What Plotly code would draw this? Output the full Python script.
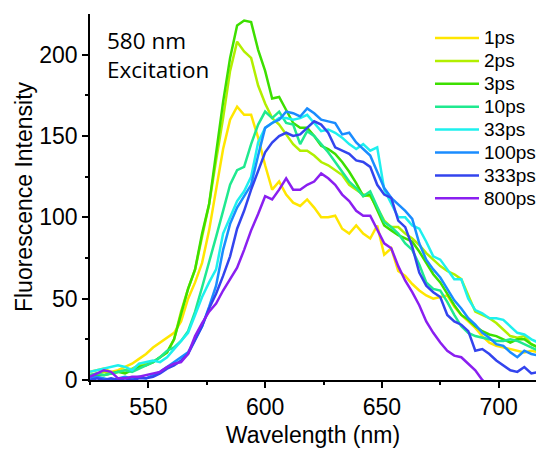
import plotly.graph_objects as go

wavelength = [525, 528, 531, 534, 537, 540, 543, 546, 549, 552,
              555, 558, 561, 564, 567, 570, 573, 576, 579, 582,
              585, 588, 591, 594, 597, 600, 603, 606, 609, 612,
              615, 618, 621, 624, 627, 630, 633, 636, 639, 642,
              645, 648, 651, 654, 657, 660, 663, 666, 669, 672,
              675, 678, 681, 684, 687, 690, 693, 696, 699, 702,
              705, 708, 711, 714, 717]

ps1 = [5, 6, 7, 5, 6, 8, 10, 13, 16, 20,
       23, 26, 29, 36, 50, 60, 72, 92, 118, 142,
       160, 168, 163, 163, 149, 132, 117, 122, 114, 109,
       107, 111, 106, 100, 100, 101, 93, 90, 95, 90,
       87, 95, 77, 81, 67, 64, 59, 55, 52, 50,
       51, 52, 45, 40, 36, 32, 27, 23, 21, 20,
       19, 18, 17, 18, 17]

ps2 = [3, 4, 5, 4, 5, 6, 7, 9, 10, 11,
       14, 17, 25, 42, 56, 68, 88, 108, 135, 161,
       190, 208, 202, 198, 181, 170, 161, 157, 151, 145,
       141, 141, 138, 134, 132, 129, 126, 120, 117, 114,
       113, 106, 98, 94, 94, 90, 87, 83, 78, 74,
       70, 67, 65, 62, 52, 42, 40, 38, 35, 31,
       27, 26, 27, 22, 20]

ps3 = [2, 3, 3, 4, 5, 4, 6, 8, 9, 11,
       14, 17, 25, 40, 56, 68, 90, 108, 140, 171,
       198, 218, 221, 220, 203, 190, 173, 174, 166, 158,
       155, 155, 150, 144, 142, 139, 134, 128, 121, 113,
       114, 104, 95, 92, 89, 87, 85, 79, 72, 65,
       60, 53, 46, 40, 37, 33, 30, 28, 27, 25,
       23, 25, 25, 22, 20]

ps10 = [3, 4, 3, 4, 5, 6, 5, 7, 9, 11,
        14, 18, 20, 24, 30, 42, 57, 72, 88, 104,
        120, 129, 131, 145, 157, 165, 161, 165, 158, 157,
        145, 153, 150, 145, 140, 134, 128, 122, 118, 113,
        116, 106, 97, 94, 90, 84, 80, 71, 60, 56,
        55, 48, 40, 33, 29, 27, 26, 25, 24, 24,
        25, 24, 22, 20, 18]

ps33 = [5, 6, 7, 8, 9, 8, 6, 10, 11, 12,
        11, 14, 19, 24, 29, 40, 51, 60, 68, 90,
        100, 110, 116, 125, 146, 155, 158, 161, 161, 160,
        161, 163, 158, 153, 154, 152, 149, 145, 142, 145,
        141, 143, 117, 108, 100, 100, 95, 93, 85, 76,
        74, 68, 62, 62, 50, 43, 41, 38, 38, 37,
        33, 29, 28, 25, 23]

ps100 = [1, 2, 1, 0, 1, 2, 1, 2, 1, 3,
         5, 8, 11, 14, 17, 25, 33, 45, 58, 80,
         96, 106, 113, 120, 138, 155, 158, 160, 165, 164,
         162, 167, 164, 160, 159, 158, 151, 152, 146, 142,
         138, 128, 118, 112, 108, 104, 99, 84, 74, 68,
         63, 56, 49, 44, 38, 34, 29, 26, 22, 21,
         17, 14, 18, 16, 15]

ps333 = [0, 1, 0, 1, 0, 1, 0, 1, 1, 2,
         4, 7, 9, 12, 16, 25, 33, 44, 53, 64,
         76, 93, 104, 117, 128, 140, 146, 150, 152, 150,
         151, 155, 159, 157, 152, 143, 141, 139, 135, 134,
         131, 120, 114, 112, 98, 94, 82, 66, 58, 54,
         51, 40, 36, 34, 30, 18, 19, 16, 12, 9,
         6, 5, 8, 4, 5]

ps800 = [2, 4, 6, 5, 1, 1, 2, 2, 3, 4,
         5, 8, 10, 11, 16, 27, 35, 42, 47, 55,
         62, 69, 80, 92, 102, 113, 111, 117, 124, 117,
         117, 120, 122, 127, 124, 120, 114, 110, 104, 101,
         101, 92, 84, 81, 70, 61, 54, 46, 36, 29,
         23, 18, 15, 14, 10, 6, 0, -4, None, None,
         None, None, None, None, None]

series_names = ["1ps", "2ps", "3ps", "10ps", "33ps", "100ps", "333ps", "800ps"]
series_values = [ps1, ps2, ps3, ps10, ps33, ps100, ps333, ps800]
series_colors = ["#ffe600", "#b2ef00", "#3ddf00", "#1fe98f",
                 "#1ef0ee", "#1a8cff", "#3344ee", "#8a1ff0"]

W, H = 536, 451
ML, MR, MT, MB = 90, 0, 14, 71
PW, PH = W - ML - MR, H - MT - MB

fig = go.Figure()
for name, vals, col in zip(series_names, series_values, series_colors):
    fig.add_trace(go.Scatter(x=wavelength, y=vals, mode="lines", name=name,
                             line=dict(color=col, width=2.5),
                             connectgaps=False, showlegend=False))

# legend drawn as paper-positioned line samples and labels
shapes = []
annotations = []
for i, (name, col) in enumerate(zip(series_names, series_colors)):
    py = 38 + i * 22.9
    yp = (H - MB - py) / PH
    shapes.append(dict(type="line", xref="paper", yref="paper",
                       x0=(435 - ML) / PW, x1=(479 - ML) / PW, y0=yp, y1=yp,
                       line=dict(color=col, width=2.5)))
    annotations.append(dict(x=(482 - ML) / PW, y=yp, xref="paper", yref="paper",
                            xanchor="left", yanchor="middle", text=name,
                            showarrow=False,
                            font=dict(family="Liberation Sans, Arial, sans-serif",
                                      size=19, color="black")))

annotations.append(dict(x=0.033, y=0.976, xref="paper", yref="paper",
                        xanchor="left", yanchor="top", align="left",
                        text="580 nm<br>Excitation", showarrow=False,
                        font=dict(family="Open Sans, sans-serif", size=22.5, color="black")))

axis_font = dict(family="Liberation Sans, Arial, sans-serif", size=23, color="black")

fig.update_layout(
    width=W, height=H,
    margin=dict(l=ML, r=MR, t=MT, b=MB),
    paper_bgcolor="white", plot_bgcolor="white",
    font=dict(family="Liberation Sans, Arial, sans-serif", color="black"),
    showlegend=False,
    shapes=shapes,
    annotations=annotations,
)

fig.update_xaxes(range=[525, 716], showline=True, linecolor="black", linewidth=1.5,
                 showgrid=False, zeroline=False, automargin=False,
                 ticks="outside", ticklen=6, tickwidth=1.5, tickcolor="black",
                 tickvals=[550, 600, 650, 700], tickfont=axis_font,
                 minor=dict(ticks="outside", ticklen=3, tickwidth=1.5, tickcolor="black",
                            tickvals=[525, 575, 625, 675]),
                 title=dict(text="Wavelength (nm)", font=axis_font, standoff=8))
fig.update_yaxes(range=[0, 225], showline=True, linecolor="black", linewidth=1.5,
                 showgrid=False, zeroline=False, automargin=False,
                 ticks="outside", ticklen=6, tickwidth=1.5, tickcolor="black",
                 tickvals=[0, 50, 100, 150, 200], tickfont=axis_font,
                 minor=dict(ticks="outside", ticklen=3, tickwidth=1.5, tickcolor="black",
                            tickvals=[25, 75, 125, 175]),
                 title=dict(text="Fluorescence Intensity", font=axis_font, standoff=0))

fig.write_html("out.html", config={"displayModeBar": False},
               post_script="document.body.style.margin='0px';document.body.style.overflow='hidden';")
